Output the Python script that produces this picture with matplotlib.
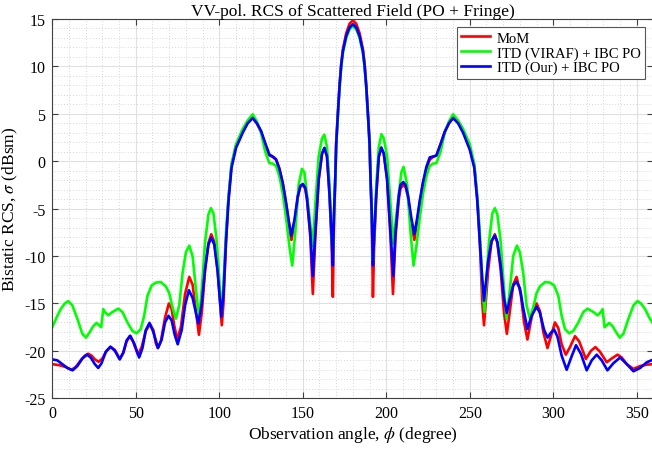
import matplotlib
matplotlib.use('Agg')
import matplotlib.pyplot as plt
from matplotlib.ticker import MultipleLocator

# ---- data (angle in degrees, RCS in dBsm) ----
mom_phi = [0, 4, 8, 11.5, 14, 17, 19.5, 21.5, 23.5, 25.5, 27.8, 30, 32.5, 35, 37.5, 40.3,
           42.5, 44.5, 46.3, 48.3, 51.3, 53.5, 56, 58.5, 60.5, 62, 63.2, 65, 67.5, 69.8,
           71.5, 73, 74.8, 77, 79.5, 82, 84, 86, 87.8, 89.5, 91.5, 93.5, 95.2, 97, 99,
           100.5, 101.5, 102.5, 104, 105.5, 107.3, 110, 114, 117, 120, 122.5, 125, 127.5,
           130, 132, 134, 136, 138, 140, 141.5, 143.2, 145, 147, 148.5, 150, 151.5, 152.5,
           154.5, 156, 157.5, 159.5, 161.5, 163, 164.5, 166, 167.3, 168,
           168.7, 169.5, 170, 171, 172, 173, 174, 176, 178, 180, 182, 184, 186, 187, 188,
           189, 190, 190.5, 191.3, 192,
           192.7, 194, 195.5, 197, 198.5, 200.5, 202.5, 204, 205.5, 207.5, 208.5, 210, 211.5,
           213, 215, 216.8, 218.5, 220, 222, 224, 226, 228, 230, 232.5, 235, 237.5, 240, 243,
           246, 250, 252.7, 254.5, 256, 257.5, 258.5, 259.5, 261, 263, 265, 266.5, 268.5,
           270.5, 272.2, 274, 276, 278, 280.5, 282.5, 284.5, 287, 288.5, 290, 292, 294, 296.5,
           298.5, 301, 303, 305, 307.5, 310, 313, 315.5, 319.5, 322.5, 325.2, 328, 332, 335,
           338.5, 341, 344, 348, 352, 356, 360]
mom_rcs = [-21.4, -21.5, -21.7, -22.0, -21.7, -21.0, -20.5, -20.3, -20.5, -20.9, -21.15, -20.8,
           -20.0, -19.6, -19.9, -20.85, -20.2, -19.0, -18.45, -19.0, -20.4, -19.6, -17.9, -17.2,
           -17.8, -19.2, -19.7, -19.0, -16.5, -15.0, -15.6, -17.3, -18.8, -17.5, -14.0, -12.2,
           -13.0, -15.8, -18.3, -16.0, -11.5, -8.6, -7.7, -8.5, -11.5, -15.0, -17.3, -15.0, -8.5,
           -4.0, -0.5, 1.6, 3.15, 4.1, 4.6, 4.0, 3.1, 1.8, 0.6, 0.45, 0.15, -0.8, -2.3, -4.5,
           -6.3, -8.3, -6.5, -3.8, -2.7, -2.5, -2.9, -4.0, -8.0, -14.0, -8.0, -2.0, 0.8, 1.4,
           0.5, -3.5, -9.0, -14.3,
           -6.0, -1.5, 2.0, 5.0, 8.0, 10.3, 11.8, 13.5, 14.5, 14.85, 14.5, 13.5, 11.8, 10.3, 8.0,
           5.0, 2.0, -1.5, -6.0, -14.3,
           -9.0, -3.5, 0.5, 1.4, 0.8, -2.0, -8.0, -14.0, -8.0, -4.0, -2.9, -2.5, -2.7, -3.8,
           -6.5, -8.3, -6.3, -4.5, -2.3, -0.8, 0.15, 0.45, 0.6, 1.8, 3.1, 4.0, 4.6, 4.1, 3.15,
           1.4, -0.5, -4.0, -8.5, -15.0, -17.3, -15.0, -11.5, -8.5, -7.7, -8.6, -11.5, -16.0,
           -18.2, -15.8, -13.0, -12.2, -14.0, -17.0, -18.8, -16.5, -15.3, -15.0, -15.8, -18.0,
           -19.7, -18.5, -17.0, -17.6, -19.3, -20.4, -19.6, -18.45, -19.0, -20.85, -20.0, -19.6,
           -20.1, -21.2, -20.8, -20.4, -20.7, -21.4, -21.9, -21.6, -21.45, -21.4]

viraf_phi = [0, 2.5, 5, 7.5, 9.6, 12, 15, 18, 20.2, 22.5, 24.5, 26.5, 28, 29.3, 30.5, 31.5,
             33.5, 36, 39.5, 42, 45, 48, 50.5, 53, 55, 57, 59.5, 62, 65, 68, 70, 72, 74, 76,
             78, 80, 82, 84, 86, 88, 89.5, 91.5, 93.5, 95, 96.5, 98.5, 100, 101.2, 102.5, 104,
             105.5, 107.3, 110, 114, 117, 120, 122.5, 125, 127.5, 130, 132, 134, 136, 138, 140,
             142, 143.7, 145.5, 147.5, 149.5, 151, 152.5, 154.5, 156, 157.5, 159.5, 161.5,
             162.9, 164.5, 166, 167.3, 168,
             168.7, 169.5, 170, 171, 172, 173, 174, 176, 178, 180, 182, 184, 186, 187, 188,
             189, 190, 190.5, 191.3, 192,
             192.7, 194, 195.5, 197.1, 198.5, 200.5, 202.5, 204.2, 205.5, 207.5, 209, 210.3,
             212.5, 214.5, 216.3, 218, 220, 222, 224, 226, 228, 230, 232.5, 235, 237.5, 240,
             243, 246, 250, 252.7, 254.5, 256, 257.5, 258.8, 260, 261.5, 263.5, 265, 266.5,
             268.5, 270.5, 272, 274, 276, 278.2, 280, 282, 284, 286, 288, 290, 292, 295, 298,
             300.5, 303, 305, 307, 309.5, 312, 315, 318, 320.5, 324, 326.5, 328.5, 329.5,
             330.7, 332, 333.5, 335.5, 337.5, 339.8, 342, 345, 348, 350.4, 352.5, 355, 357.5,
             360]
viraf_rcs = [-17.5, -16.5, -15.6, -15.0, -14.75, -15.2, -16.6, -18.2, -18.6, -18.0, -17.4,
             -17.05, -17.3, -17.5, -15.6, -15.9, -16.25, -15.9, -15.55, -15.9, -17.0, -17.9,
             -18.15, -17.7, -16.3, -14.2, -13.1, -12.8, -12.75, -13.2, -13.9, -15.4, -16.6,
             -15.2, -11.8, -9.6, -8.9, -10.0, -13.5, -16.6, -13.5, -8.5, -5.6, -4.95, -5.5,
             -8.5, -12.5, -16.2, -13.0, -7.5, -3.8, -0.3, 1.8, 3.4, 4.3, 4.95, 4.2, 3.0, 1.0,
             -0.2, -0.25, -0.5, -1.6, -3.4, -6.0, -9.0, -11.0, -7.5, -2.5, -0.8, -1.2, -3.5,
             -6.5, -8.95, -4.5, 0.5, 2.4, 2.8, 1.5, -2.5, -8.0, -10.5,
             -5.6, -1.7, 1.6, 4.8, 7.7, 9.9, 11.4, 13.0, 13.9, 14.25, 13.9, 13.0, 11.4, 9.9,
             7.7, 4.8, 1.6, -1.7, -5.6, -10.5,
             -8.0, -2.5, 1.5, 2.85, 2.4, 0.5, -4.5, -8.7, -6.5, -3.5, -1.2, -0.6, -2.5, -7.5,
             -11.0, -9.0, -6.0, -3.4, -1.6, -0.5, -0.25, -0.2, 1.0, 3.0, 4.2, 4.95, 4.3, 3.4,
             1.8, -0.3, -3.8, -7.5, -13.0, -15.9, -12.5, -8.5, -5.5, -4.95, -5.6, -8.5, -13.5,
             -16.6, -13.5, -10.0, -8.9, -9.6, -11.8, -15.2, -16.6, -15.4, -13.9, -13.2, -12.75,
             -12.8, -13.1, -14.2, -16.3, -17.7, -18.15, -17.9, -17.0, -15.9, -15.55, -15.9,
             -16.25, -15.9, -15.6, -17.5, -17.3, -17.05, -17.4, -18.0, -18.6, -18.2, -16.6,
             -15.2, -14.75, -15.0, -15.6, -16.5, -17.2]

our_phi = [0, 3, 6, 9, 12.2, 15, 18, 20.8, 23, 25.5, 27.5, 29.5, 32, 34.8, 37.5, 40.4, 42.5,
           44.5, 46.7, 49, 52, 54, 56, 58.2, 60.5, 63.3, 65.5, 67.5, 69.6, 71.5, 73.3, 75.1,
           77.5, 79.5, 81.8, 84, 86, 87.5, 89.5, 91.5, 93.5, 95.2, 97, 99, 100.2, 101.2, 102.5,
           104, 105.5, 107.3, 110, 114, 117, 120, 122.5, 125, 127.5, 130, 132, 134, 136, 138,
           140, 141.5, 143, 145, 147, 148.5, 150, 151.5, 152.5, 154.5, 156, 157.5, 159.5,
           161.5, 163, 164.5, 166, 167.3, 168,
           168.7, 169.5, 170, 171, 172, 173, 174, 176, 178, 180, 182, 184, 186, 187, 188,
           189, 190, 190.5, 191.3, 192,
           192.7, 194, 195.5, 197, 198.5, 200.5, 202.5, 204.2, 205.5, 207.5, 208.5, 210.2,
           211.5, 213, 215, 216.8, 218.5, 220, 222, 224, 226, 228, 230, 232.5, 235, 237.5, 240,
           243, 246, 250, 252.7, 254.5, 256, 257.5, 258.5, 259.5, 261, 263, 265, 266.5, 268.5,
           270.5, 272.2, 274, 276, 278, 280, 282, 284.5, 287, 290, 292, 294.5, 296.6, 298.5,
           300.5, 302.5, 305, 308, 310.5, 313.6, 316.5, 320, 323, 326, 329, 332.4, 336, 340,
           344, 348, 352, 356, 360]
our_rcs = [-20.9, -21.0, -21.4, -21.8, -22.05, -21.6, -20.8, -20.4, -20.7, -21.4, -21.8, -21.3,
           -20.1, -19.55, -20.0, -20.9, -20.2, -18.9, -18.4, -19.2, -20.7, -19.7, -17.8, -17.05,
           -18.0, -19.7, -18.8, -17.0, -16.3, -16.8, -18.3, -19.3, -17.8, -15.2, -13.6, -14.4,
           -16.0, -17.1, -15.0, -11.3, -8.8, -8.05, -8.8, -11.6, -14.3, -16.4, -14.0, -8.5,
           -4.2, -0.7, 1.4, 3.0, 4.0, 4.55, 4.0, 3.2, 1.9, 0.7, 0.5, 0.2, -0.8, -2.3, -4.4,
           -6.2, -7.85, -6.2, -3.7, -2.6, -2.4, -2.8, -3.9, -7.5, -12.1, -7.5, -1.9, 0.8, 1.4,
           0.5, -3.5, -8.0, -11.0,
           -5.5, -1.5, 1.8, 5.0, 7.9, 10.1, 11.6, 13.2, 14.1, 14.45, 14.1, 13.2, 11.6, 10.1,
           7.9, 5.0, 1.8, -1.5, -5.5, -11.0,
           -8.0, -3.5, 0.5, 1.45, 0.8, -1.9, -7.5, -12.1, -7.5, -3.6, -2.5, -2.2, -2.5, -3.6,
           -6.0, -7.7, -6.0, -4.2, -2.2, -0.6, 0.4, 0.5, 0.6, 1.8, 3.1, 4.0, 4.55, 4.0, 3.0,
           1.2, -0.7, -4.2, -8.5, -12.5, -14.7, -13.0, -10.5, -8.4, -7.85, -8.5, -11.0, -14.5,
           -16.0, -14.5, -13.1, -12.7, -13.4, -15.5, -17.7, -16.3, -15.35, -16.0, -17.8, -18.6,
           -18.1, -17.75, -18.5, -20.5, -22.0, -20.8, -19.4, -20.3, -22.05, -21.0, -20.4, -21.0,
           -22.05, -21.3, -20.7, -21.4, -22.15, -21.8, -21.2, -20.9]

labels = ['MoM', 'ITD (VIRAF) + IBC PO', 'ITD (Our) + IBC PO']
colors = ['#ff0000', '#00ff00', '#0000ff']

plt.rcParams['font.family'] = 'Liberation Serif'
plt.rcParams['mathtext.fontset'] = 'stix'
plt.rcParams['axes.unicode_minus'] = False

fig = plt.figure(figsize=(6.52, 4.52), dpi=100)
ax = fig.add_axes([0.0802, 0.1166, 0.9221, 0.8392])

ax.plot(mom_phi, mom_rcs, color=colors[0], lw=1.9, label=labels[0])
ax.plot(viraf_phi, viraf_rcs, color=colors[1], lw=1.9, label=labels[1])
ax.plot(our_phi, our_rcs, color=colors[2], lw=1.9, label=labels[2])

ax.set_xlim(0, 360)
ax.set_ylim(-25, 15)
ax.xaxis.set_major_locator(MultipleLocator(50))
ax.xaxis.set_minor_locator(MultipleLocator(10))
ax.yaxis.set_major_locator(MultipleLocator(5))
ax.yaxis.set_minor_locator(MultipleLocator(1))
ax.set_axisbelow(True)
ax.grid(which='major', color='#e0e0e0', lw=0.8)
ax.grid(which='minor', color='#c8c8c8', lw=0.6, linestyle=(0, (1, 2.5)))
ax.tick_params(which='major', direction='in', top=True, right=True, length=4,
               labelsize=11.5, color='#404040', pad=5)
ax.tick_params(which='minor', length=0)
for s in ax.spines.values():
    s.set_color('#404040')
    s.set_linewidth(0.8)

ax.set_title('VV-pol. RCS of Scattered Field (PO + Fringe)', fontsize=12.5, pad=3)
ax.set_xlabel(r'Observation angle, $\phi$ (degree)', fontsize=12.5, labelpad=2)
ax.set_ylabel(r'Bistatic RCS, $\sigma$ (dBsm)', fontsize=12.5, labelpad=3)

leg = ax.legend(loc='upper right', bbox_to_anchor=(645 / 652, 1 - 28 / 452),
                bbox_transform=fig.transFigure, borderaxespad=0, fontsize=10.5,
                handlelength=2.0, handletextpad=0.45, labelspacing=0.1,
                borderpad=0.3, fancybox=False, framealpha=1)
leg.get_frame().set_edgecolor('#555555')
leg.get_frame().set_linewidth(0.8)

fig.savefig('out.png', dpi=100)
